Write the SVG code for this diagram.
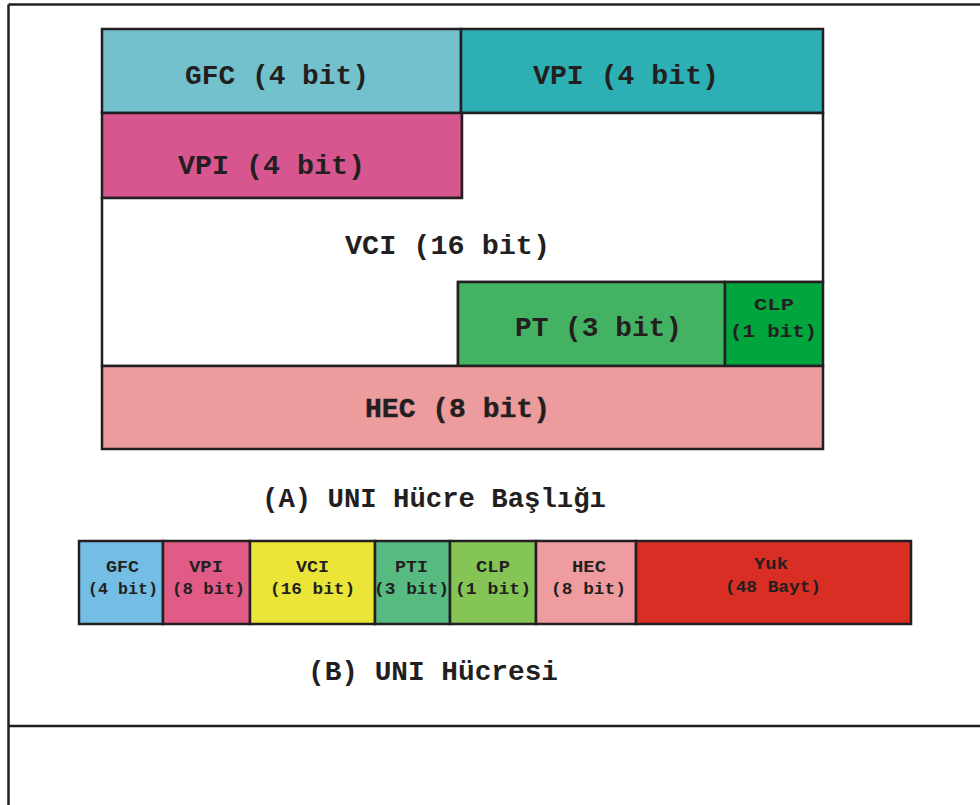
<svg xmlns="http://www.w3.org/2000/svg" width="980" height="805" viewBox="0 0 980 805">
  <style>
    .cell { stroke: #231F20; stroke-width: 2.5; }
    .frame { stroke: #231F20; stroke-width: 2.5; fill: none; }
    .big { font-family: "Liberation Mono", "DejaVu Sans Mono", monospace; font-weight: bold; font-size: 27px; fill: #231F20; }
    .small { font-family: "Liberation Mono", "DejaVu Sans Mono", monospace; font-weight: bold; font-size: 16px; fill: #231F20; }
    .mid { font-family: "Liberation Mono", "DejaVu Sans Mono", monospace; font-weight: bold; font-size: 19px; fill: #231F20; }
    .cap { font-family: "Liberation Mono", "DejaVu Sans Mono", monospace; font-weight: bold; font-size: 27px; fill: #231F20; }
  </style>
  <rect width="980" height="805" fill="#ffffff"/>

  <!-- page frame -->
  <g id="frame">
    <line class="frame" x1="8.5" y1="4.5" x2="980" y2="4.5"/>
    <line class="frame" x1="8.5" y1="4.5" x2="8.5" y2="805"/>
    <line class="frame" x1="8.5" y1="726" x2="980" y2="726"/>
  </g>

  <!-- (A) UNI cell header -->
  <g id="header">
    <g id="a-gfc">
      <rect class="cell" x="102" y="29" width="359" height="84" fill="#73C1CC"/>
      <text class="big" x="185" y="84" textLength="184" lengthAdjust="spacingAndGlyphs">GFC (4 bit)</text>
    </g>
    <g id="a-vpi-hi">
      <rect class="cell" x="461" y="29" width="362" height="84" fill="#2DB0B3"/>
      <text class="big" x="533" y="84" textLength="186" lengthAdjust="spacingAndGlyphs">VPI (4 bit)</text>
    </g>
    <g id="a-vpi-lo">
      <rect class="cell" x="102" y="113" width="360" height="85" fill="#D7568F"/>
      <text class="big" x="178" y="174" textLength="187" lengthAdjust="spacingAndGlyphs">VPI (4 bit)</text>
    </g>
    <g id="a-vci">
      <path class="cell" d="M102,198 H462 V113 H823 V282 H458 V366 H102 Z" fill="#ffffff"/>
      <text class="big" x="345" y="254" textLength="205" lengthAdjust="spacingAndGlyphs">VCI (16 bit)</text>
    </g>
    <g id="a-pt">
      <rect class="cell" x="458" y="282" width="267" height="84" fill="#43B262"/>
      <text class="big" x="515" y="336" textLength="167" lengthAdjust="spacingAndGlyphs">PT (3 bit)</text>
    </g>
    <g id="a-clp">
      <rect class="cell" x="725" y="282" width="98" height="84" fill="#00A53E"/>
      <text class="small" x="754" y="310" textLength="40" lengthAdjust="spacingAndGlyphs">CLP</text>
      <text class="mid" x="730" y="337" textLength="87" lengthAdjust="spacingAndGlyphs">(1 bit)</text>
    </g>
    <g id="a-hec">
      <rect class="cell" x="102" y="366" width="721" height="83" fill="#ED9C9E"/>
      <text class="big" x="365" y="417" textLength="185" lengthAdjust="spacingAndGlyphs" font-weight="normal" stroke="#231F20" stroke-width="0.4">HEC (8 bit)</text>
    </g>
    <text id="caption-a" class="cap" x="262" y="507" textLength="344" lengthAdjust="spacingAndGlyphs">(A) UNI Hücre Başlığı</text>
  </g>

  <!-- (B) UNI cell -->
  <g id="cell">
    <g id="b-gfc">
      <rect class="cell" x="79" y="541" width="84" height="83" fill="#74BDE4"/>
      <text class="small" x="106" y="572" textLength="33" lengthAdjust="spacingAndGlyphs">GFC</text>
      <text class="small" x="88" y="594" textLength="70" lengthAdjust="spacingAndGlyphs">(4 bit)</text>
    </g>
    <g id="b-vpi">
      <rect class="cell" x="163" y="541" width="87" height="83" fill="#E05C87"/>
      <text class="small" x="189" y="572" textLength="34" lengthAdjust="spacingAndGlyphs">VPI</text>
      <text class="small" x="172" y="594" textLength="73" lengthAdjust="spacingAndGlyphs">(8 bit)</text>
    </g>
    <g id="b-vci">
      <rect class="cell" x="250" y="541" width="125" height="83" fill="#EBE538"/>
      <text class="small" x="296" y="572" textLength="33" lengthAdjust="spacingAndGlyphs">VCI</text>
      <text class="small" x="270" y="594" textLength="85" lengthAdjust="spacingAndGlyphs">(16 bit)</text>
    </g>
    <g id="b-pti">
      <rect class="cell" x="375" y="541" width="75" height="83" fill="#57BA81"/>
      <text class="small" x="395" y="572" textLength="33" lengthAdjust="spacingAndGlyphs">PTI</text>
      <text class="small" x="374" y="594" textLength="75" lengthAdjust="spacingAndGlyphs">(3 bit)</text>
    </g>
    <g id="b-clp">
      <rect class="cell" x="450" y="541" width="86" height="83" fill="#85C555"/>
      <text class="small" x="476" y="572" textLength="34" lengthAdjust="spacingAndGlyphs">CLP</text>
      <text class="small" x="455" y="594" textLength="76" lengthAdjust="spacingAndGlyphs">(1 bit)</text>
    </g>
    <g id="b-hec">
      <rect class="cell" x="536" y="541" width="100" height="83" fill="#EE9C9F"/>
      <text class="small" x="572" y="572" textLength="34" lengthAdjust="spacingAndGlyphs">HEC</text>
      <text class="small" x="551" y="594" textLength="75" lengthAdjust="spacingAndGlyphs">(8 bit)</text>
    </g>
    <g id="b-payload">
      <rect class="cell" x="636" y="541" width="275" height="83" fill="#D92E23"/>
      <text class="small" x="754" y="569" textLength="34" lengthAdjust="spacingAndGlyphs">Yuk</text>
      <text class="small" x="725" y="592" textLength="96" lengthAdjust="spacingAndGlyphs">(48 Bayt)</text>
    </g>
    <text id="caption-b" class="cap" x="308" y="680" textLength="250" lengthAdjust="spacingAndGlyphs">(B) UNI Hücresi</text>
  </g>
</svg>
